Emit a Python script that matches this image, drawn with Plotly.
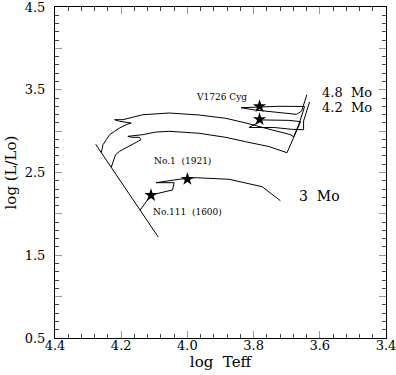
import plotly.graph_objects as go

# zero-age main sequence
zams_teff = [4.277, 4.088]
zams_lum = [2.84, 1.72]

# 4.8 Mo track
m48_teff = [4.260, 4.255, 4.245, 4.235, 4.220, 4.205, 4.185, 4.170, 4.205, 4.220,
            4.195, 4.165, 4.135, 4.055, 3.965, 3.884, 3.820, 3.744, 3.690, 3.679,
            3.664, 3.652, 3.646, 3.724, 3.781, 3.838, 3.796, 3.670, 3.655, 3.639]
m48_lum = [2.740, 2.836, 2.896, 2.957, 2.998, 3.038, 3.078, 3.098, 3.119, 3.138,
           3.138, 3.167, 3.198, 3.219, 3.195, 3.155, 3.095, 3.014, 2.959, 2.933,
           3.074, 3.219, 3.298, 3.300, 3.290, 3.283, 3.255, 3.203, 3.243, 3.440]

# 4.2 Mo track
m42_teff = [4.230, 4.225, 4.217, 4.205, 4.185, 4.155, 4.140, 4.145, 4.165, 4.180,
            4.135, 4.095, 4.055, 3.965, 3.884, 3.824, 3.754, 3.699, 3.676, 3.658,
            3.694, 3.772, 3.814, 3.739, 3.685, 3.649, 3.649, 3.631]
m42_lum = [2.565, 2.635, 2.715, 2.756, 2.796, 2.857, 2.896, 2.925, 2.925, 2.937,
           2.957, 2.989, 2.998, 2.974, 2.925, 2.872, 2.814, 2.739, 2.953, 3.115,
           3.130, 3.135, 3.044, 3.044, 3.022, 3.017, 3.122, 3.352]

# 3 Mo track
m3_teff = [4.143, 4.110, 4.045, 4.040, 4.095, 4.025, 3.974, 3.874, 3.774, 3.719]
m3_lum = [2.045, 2.228, 2.289, 2.377, 2.377, 2.418, 2.437, 2.418, 2.328, 2.159]

# observed stars
star_teff = [4.11, 4.00, 3.782, 3.782]
star_lum = [2.225, 2.42, 3.30, 3.143]

x_ticks = [4.4, 4.2, 4.0, 3.8, 3.6, 3.4]
x_labels = ["4.4", "4.2", "4.0", "3.8", "3.6", "3.4"]
y_ticks = [0.5, 1.0, 1.5, 2.0, 2.5, 3.0, 3.5, 4.0, 4.5]
y_labels = ["0.5", "", "1.5", "", "2.5", "", "3.5", "", "4.5"]

serif = "DejaVu Serif"

fig = go.Figure()
line = dict(color="black", width=1)
for xs, ys in [(zams_teff, zams_lum), (m48_teff, m48_lum), (m42_teff, m42_lum), (m3_teff, m3_lum)]:
    fig.add_trace(go.Scatter(x=xs, y=ys, mode="lines", line=line, showlegend=False))

fig.add_trace(go.Scatter(x=star_teff, y=star_lum, mode="markers", showlegend=False,
                         marker=dict(symbol="star", size=10, color="black")))

labels = [
    ("V1726 Cyg", 3.898, 3.412, "center", 9),
    ("4.8\u00a0\u00a0Mo", 3.598, 3.468, "left", 13),
    ("4.2\u00a0\u00a0Mo", 3.598, 3.285, "left", 13),
    ("3\u00a0\u00a0Mo", 3.670, 2.216, "left", 14),
    ("No.1\u00a0\u00a0(1921)", 4.106, 2.639, "left", 9),
    ("No.111\u00a0\u00a0(1600)", 4.109, 2.023, "left", 9),
]
for txt, x, y, anchor, size in labels:
    fig.add_annotation(x=x, y=y, text=txt, showarrow=False, xanchor=anchor,
                       font=dict(family=serif, size=size, color="black"))

axis_common = dict(showgrid=False, zeroline=False, showline=True, linecolor="black",
                   linewidth=1, mirror="ticks", ticks="inside", ticklen=7, automargin=False,
                   ticklabeloverflow="allow",
                   tickcolor="#999999", tickfont=dict(family=serif, size=13, color="black"))

fig.update_xaxes(range=[4.4, 3.4], tickvals=x_ticks, ticktext=x_labels, ticklabelstandoff=-5,
                 title=dict(text="log\u00a0\u00a0Teff", font=dict(family=serif, size=15, color="black"), standoff=0),
                 minor=dict(dtick=0.04, tick0=3.4, ticks="inside", ticklen=4, tickcolor="#444444"),
                 **axis_common)
fig.update_yaxes(range=[0.5, 4.5], tickvals=y_ticks, ticktext=y_labels, ticklabelstandoff=6,
                 title=dict(text="log\u00a0(L/Lo)", font=dict(family=serif, size=15, color="black"), standoff=4),
                 minor=dict(dtick=0.1, tick0=0.5, ticks="inside", ticklen=4, tickcolor="#444444"),
                 **axis_common)

fig.update_layout(
    width=396, height=375,
    paper_bgcolor="white",
    plot_bgcolor="white",
    margin=dict(l=55, r=10, t=7, b=37),
)

fig.write_html("out.html", config={"displayModeBar": False},
               post_script="document.body.style.margin='0px';")
